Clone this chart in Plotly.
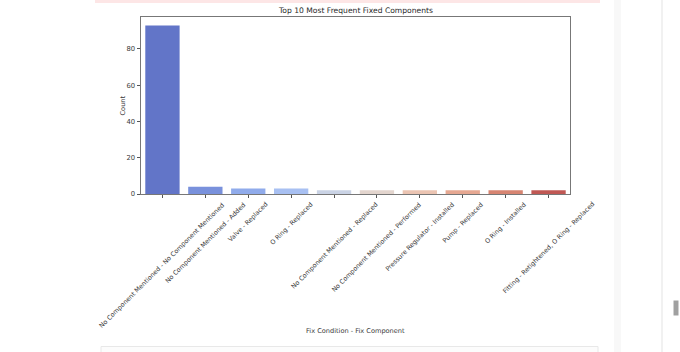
import colorsys
import plotly.graph_objects as go

# ---- data ----
categories = [
    "No Component Mentioned - No Component Mentioned",
    "No Component Mentioned - Added",
    "Valve - Replaced",
    "O Ring - Replaced",
    "No Component Mentioned - Replaced",
    "No Component Mentioned - Performed",
    "Pressure Regulator - Installed",
    "Pump - Replaced",
    "O Ring - Installed",
    "Fitting - Retightened, O Ring - Replaced",
]
counts = [93, 4, 3, 3, 2, 2, 2, 2, 2, 2]

title_text = "Top 10 Most Frequent Fixed Components"
x_title = "Fix Condition - Fix Component"
y_title = "Count"
y_ticks = [0, 20, 40, 60, 80]

# ---- style ----
base_coolwarm = ["#516bd9", "#6889ed", "#81a5fa", "#9bbbff", "#c6d2e9",
                 "#e6d4cb", "#f5c0a8", "#f4a284", "#e87a61", "#d24742"]


def desaturate(hexc, prop=0.75):
    r, g, b = (int(hexc[i:i + 2], 16) / 255 for i in (1, 3, 5))
    h, l, s = colorsys.rgb_to_hls(r, g, b)
    r, g, b = colorsys.hls_to_rgb(h, l, s * prop)
    return "rgb(%d,%d,%d)" % (round(r * 255), round(g * 255), round(b * 255))


bar_colors = [desaturate(c) for c in base_coolwarm]

W, H = 680, 352
L, R, T, B = 141, 110, 17, 158
PW, PH = W - L - R, H - T - B


def px_x(p):
    return (p - L) / PW


def px_y(p):
    return (H - B - p) / PH


FONT = "DejaVu Sans"
TXT = "#3a3a3a"

fig = go.Figure()
fig.add_trace(go.Bar(
    x=categories, y=counts,
    marker=dict(color=bar_colors, line=dict(width=0)),
    width=0.8,
    hoverinfo="x+y",
))

fig.update_layout(
    width=W, height=H,
    margin=dict(l=L, r=R, t=T, b=B, pad=0),
    paper_bgcolor="white", plot_bgcolor="white",
    showlegend=False,
    font=dict(family=FONT, size=6.8, color=TXT),
    bargap=0.2,
)
fig.update_xaxes(
    type="category", range=[-0.5, len(categories) - 0.5],
    showticklabels=False, ticks="outside", ticklen=3.5, tickwidth=0.8,
    tickcolor="#555", showline=True, linecolor="#777", linewidth=0.9,
    mirror=True, showgrid=False, zeroline=False,
)
fig.update_yaxes(
    range=[0, max(counts) * 1.05], tickvals=y_ticks,
    ticks="outside", ticklen=3.5, tickwidth=0.8, tickcolor="#555",
    tickfont=dict(family=FONT, size=6.8, color=TXT),
    showline=True, linecolor="#777", linewidth=0.9, mirror=True,
    showgrid=False, zeroline=False,
)

# x tick labels (rotated, centered on ticks like matplotlib)
for c in categories:
    fig.add_annotation(
        x=c, xref="x", y=px_y(199.5), yref="paper",
        text=c, textangle=-45, showarrow=False,
        xanchor="center", yanchor="top",
        font=dict(family=FONT, size=6.4, color=TXT),
        borderpad=0,
    )

# titles
fig.add_annotation(x=px_x(355.5), y=px_y(10), xref="paper", yref="paper",
                   text=title_text, showarrow=False, xanchor="center",
                   yanchor="middle", font=dict(family=FONT, size=7.6, color="#2a2a2a"))
fig.add_annotation(x=px_x(355.5), y=px_y(331), xref="paper", yref="paper",
                   text=x_title, showarrow=False, xanchor="center",
                   yanchor="middle", font=dict(family=FONT, size=6.6, color=TXT))
fig.add_annotation(x=px_x(122), y=px_y(105.5), xref="paper", yref="paper",
                   text=y_title, showarrow=False, textangle=-90,
                   xanchor="center", yanchor="middle",
                   font=dict(family=FONT, size=6.6, color=TXT))

# notebook surroundings
shapes = [
    dict(x0=px_x(95), x1=px_x(600), y0=px_y(-2), y1=px_y(3),
         fillcolor="#fde6e6", line=dict(width=0)),
    dict(x0=px_x(614), x1=px_x(621), y0=px_y(0), y1=px_y(352),
         fillcolor="#f8f8f8", line=dict(width=0)),
    dict(x0=px_x(661.5), x1=px_x(662.5), y0=px_y(0), y1=px_y(352),
         fillcolor="#e4e4e4", line=dict(width=0)),
    dict(x0=px_x(673.5), x1=px_x(678.5), y0=px_y(300.5), y1=px_y(315.5),
         fillcolor="#a0a0a0", line=dict(width=0)),
    dict(x0=px_x(101), x1=px_x(598), y0=px_y(346.5), y1=px_y(360),
         fillcolor="#fcfcfc", line=dict(width=1, color="#e8e8e8")),
]
for s in shapes:
    fig.add_shape(type="rect", xref="paper", yref="paper", layer="below", **s)

fig.write_html("out.html")
